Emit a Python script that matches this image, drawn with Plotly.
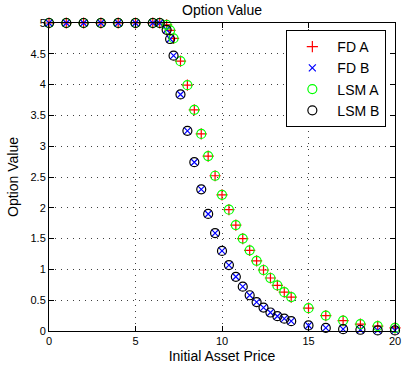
import plotly.graph_objects as go

# Initial asset prices on the evaluation grid
asset_price = [0, 1, 2, 3, 4, 5, 6, 6.4, 6.8, 7.0, 7.2, 7.6, 8.0, 8.4, 8.8, 9.2,
               9.6, 10.0, 10.4, 10.8, 11.2, 11.6, 12.0, 12.4, 12.8, 13.2, 13.6,
               14.0, 15, 16, 17, 18, 19, 20]

# Option values, contract A and contract B
value_a = [5, 5, 5, 5, 5, 5, 5, 5, 4.97, 4.88, 4.75, 4.38, 3.99, 3.59, 3.20,
           2.84, 2.52, 2.21, 1.97, 1.72, 1.50, 1.31, 1.14, 0.99, 0.86, 0.74,
           0.63, 0.55, 0.37, 0.25, 0.17, 0.11, 0.08, 0.05]
value_b = [5, 5, 5, 5, 5, 5, 5, 5, 4.89, 4.74, 4.47, 3.84, 3.25, 2.74, 2.30,
           1.90, 1.59, 1.30, 1.07, 0.88, 0.72, 0.58, 0.47, 0.38, 0.30, 0.24,
           0.20, 0.16, 0.09, 0.05, 0.03, 0.02, 0.01, 0.01]

x_ticks = [0, 5, 10, 15, 20]
y_ticks = [0, 0.5, 1, 1.5, 2, 2.5, 3, 3.5, 4, 4.5, 5]

FONT = "Liberation Sans, Arial, Helvetica, sans-serif"

series = [
    ("FD A", value_a, "cross-thin-open", "#ff0000", 8),
    ("FD B", value_b, "x-thin-open", "#0000ff", 7),
    ("LSM A", value_a, "circle-open", "#00ff00", 9),
    ("LSM B", value_b, "circle-open", "#000000", 9),
]

fig = go.Figure()
for name, vals, sym, col, size in series:
    fig.add_trace(go.Scatter(
        x=asset_price, y=vals, mode="markers", name=name,
        cliponaxis=False,
        marker=dict(symbol=sym, size=size, color=col,
                    line=dict(color=col, width=1.2)),
    ))

axis_common = dict(
    showline=True, linecolor="black", linewidth=1, mirror="ticks",
    ticks="inside", ticklen=5, tickcolor="black", tickwidth=1,
    showgrid=True, gridcolor="rgba(0,0,0,0.75)", gridwidth=1,
    griddash="1px,5px", zeroline=False,
    tickfont=dict(family=FONT, size=11, color="black"),
)

fig.update_xaxes(range=[0, 20], tickvals=x_ticks, ticklabeloverflow="allow",
                 title=dict(text="Initial Asset Price", standoff=4,
                            font=dict(family=FONT, size=14, color="black")),
                 **axis_common)
fig.update_yaxes(range=[0, 5], tickvals=y_ticks,
                 ticktext=["0", "0.5", "1", "1.5", "2", "2.5", "3", "3.5",
                           "4", "4.5", "5"],
                 title=dict(text="Option Value", standoff=8,
                            font=dict(family=FONT, size=14, color="black")),
                 **axis_common)

fig.update_layout(
    width=406, height=371,
    margin=dict(l=49, r=5, t=23, b=40),
    paper_bgcolor="white", plot_bgcolor="white",
    font=dict(family=FONT, color="black"),
    title=dict(text="Option Value", x=0.5, xanchor="center", xref="paper",
               y=1 - 10 / 371, yanchor="middle", yref="container",
               font=dict(family=FONT, size=14, color="black")),
    showlegend=True,
    legend=dict(x=0.686, y=0.977, xanchor="left", yanchor="top",
                bgcolor="white", bordercolor="black", borderwidth=1,
                font=dict(family=FONT, size=14, color="black"),
                itemwidth=40, tracegroupgap=0),
)

fig.write_html("out.html")
